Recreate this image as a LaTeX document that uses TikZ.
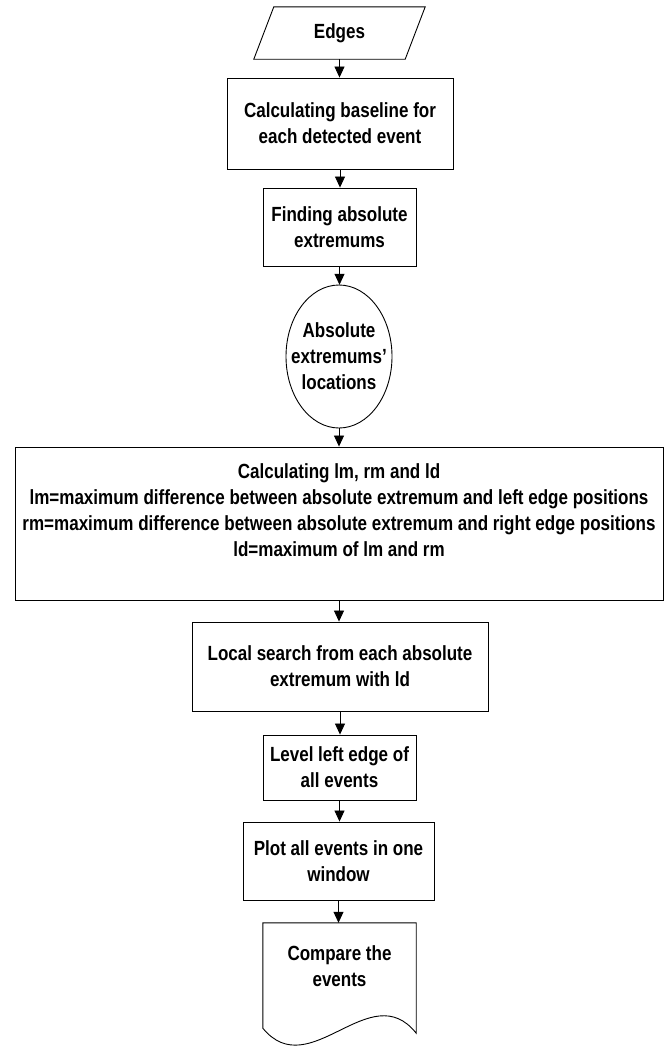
\documentclass[tikz,border=0pt]{standalone}
\usepackage{fontspec}
\newfontfamily\labfont{Liberation Sans}[FakeStretch=0.83]
\usetikzlibrary{shapes.geometric,arrows.meta,calc}
\tikzset{
  shapeline/.style={draw=black, line width=0.9pt},
  lbl/.style={align=center, inner sep=0pt, font=\labfont\bfseries\fontsize{20.5}{26}\selectfont},
  boxnode/.style={lbl, shapeline},
  arr/.style={draw=black, line width=0.8pt, -{Triangle[length=11pt,width=10pt]}}
}
\begin{document}
\begin{tikzpicture}[x=1pt,y=-1pt]
\useasboundingbox (0,0) rectangle (669,1052);

% input parallelogram
\node[lbl, minimum width=171, minimum height=52] (edges) at (339.5,33) {Edges};
\draw[shapeline] (edges.south west) -- ($(edges.north west)+(20,0)$) -- (edges.north east) -- ($(edges.south east)+(-20,0)$) -- cycle;

\node[boxnode, minimum width=226, minimum height=91] (b1) at (340,123.5) {Calculating baseline for\\each detected event};
\node[boxnode, minimum width=153, minimum height=78] (b2) at (339.5,227) {Finding absolute\\extremums};

% terminal ellipse
\node[lbl, minimum width=106, minimum height=143] (ell) at (339,356.5) {Absolute\\extremums’\\locations};
\draw[shapeline] (ell.center) ellipse [x radius=53, y radius=71.5];

\node[boxnode, minimum width=648, minimum height=153] (big) at (339,523.5) {Calculating lm, rm and ld\\lm=maximum difference between absolute extremum and left edge positions\\rm=maximum difference between absolute extremum and right edge positions\\ld=maximum of lm and rm\\ \mbox{}};
\node[boxnode, minimum width=296, minimum height=89] (loc) at (340,666.5) {Local search from each absolute\\extremum with ld};
\node[boxnode, minimum width=153, minimum height=65] (lev) at (339.5,767.5) {Level left edge of\\all events};
\node[boxnode, minimum width=191, minimum height=78] (plot) at (338.5,861) {Plot all events in one\\window};

% document shape
\node[lbl, minimum width=153, minimum height=86] (cmp) at (339.5,966) {Compare the\\events};
\draw[shapeline] ($(cmp.south west)+(0,19)$) -- (cmp.north west) -- (cmp.north east) -- ($(cmp.south east)+(0,24)$)
  .. controls ($(cmp.south east)+(-46,-34)$) and ($(cmp.south west)+(47,76)$) .. ($(cmp.south west)+(0,19)$);

% connectors
\draw[arr] (edges.south) -- (edges.south |- b1.north);
\draw[arr] (b1.south) -- (b1.south |- b2.north);
\draw[arr] (b2.south) -- (b2.south |- ell.north);
\draw[arr] (ell.south) -- (ell.south |- big.north);
\draw[arr] (big.south) -- (big.south |- loc.north);
\draw[arr] (loc.south) -- (loc.south |- lev.north);
\draw[arr] (lev.south) -- (lev.south |- plot.north);
\draw[arr] (plot.south) -- (plot.south |- cmp.north);
\end{tikzpicture}
\end{document}
